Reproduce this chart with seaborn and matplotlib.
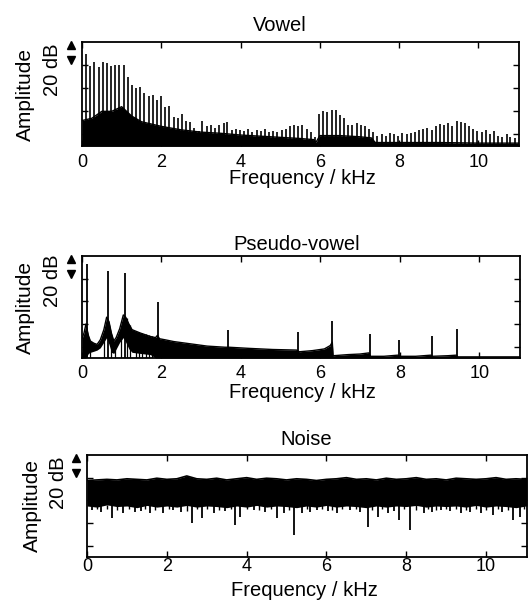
import matplotlib
matplotlib.use("Agg")
import matplotlib.pyplot as plt
import seaborn as sns

sns.set_theme(style="ticks")
plt.rcParams["font.family"] = ["Liberation Sans", "DejaVu Sans"]

# ---------------- data (frequency in kHz, level in dB) ----------------
X_TICKS = [0, 2, 4, 6, 8, 10]
Y_TICKS = [10, 30, 50, 70]
TITLES = ["Vowel", "Pseudo-vowel", "Noise"]
X_LABEL = "Frequency / kHz"
Y_LABEL = "Amplitude"
SCALE_LABEL = "20 dB"

# Vowel: harmonic peaks
VOWEL_PEAK_FREQ = [0.10, 0.21, 0.31, 0.42, 0.52, 0.63, 0.73, 0.84, 0.94, 1.05,
                   1.15, 1.26, 1.36, 1.47, 1.57, 1.68, 1.78, 1.89, 1.99, 2.10,
                   2.20, 2.31, 2.41, 2.52, 2.62, 2.73, 2.83, 2.94, 3.04, 3.15,
                   3.25, 3.36, 3.46, 3.57, 3.67, 3.78, 3.88, 3.99, 4.09, 4.20,
                   4.30, 4.41, 4.51, 4.62, 4.72, 4.83, 4.93, 5.04, 5.14, 5.25,
                   5.35, 5.46, 5.56, 5.67, 5.77, 5.88, 5.98, 6.09, 6.19, 6.30,
                   6.40, 6.51, 6.61, 6.72, 6.82, 6.93, 7.03, 7.14, 7.24, 7.35,
                   7.45, 7.56, 7.66, 7.77, 7.87, 7.98, 8.08, 8.19, 8.29, 8.40,
                   8.50, 8.61, 8.71, 8.82, 8.92, 9.03, 9.13, 9.24, 9.34, 9.45,
                   9.55, 9.66, 9.76, 9.87, 9.97, 10.08, 10.18, 10.29, 10.39, 10.50,
                   10.60, 10.71, 10.81, 10.92]
VOWEL_PEAK_DB = [80, 69, 73, 68, 73, 72, 69, 70, 70, 70,
                 60, 53, 50, 51, 46, 43, 44, 40, 43, 34,
                 35, 25, 24, 28, 22, 21, 16, 13, 22, 17,
                 18, 16, 18, 20, 21, 14, 15, 14, 13, 15,
                 12, 14, 13, 15, 12, 13, 12, 14, 15, 17,
                 18, 17, 18, 15, 12, 8, 28, 30, 29, 31,
                 31, 27, 24, 18, 18, 20, 18, 17, 15, 12,
                 9, 10, 9, 11, 10, 9, 11, 10, 11, 12,
                 14, 15, 16, 14, 17, 19, 18, 20, 17, 22,
                 21, 20, 17, 15, 13, 12, 14, 10, 13, 9,
                 8, 10, 8, 7]
# Vowel: dense lower mass (upper edge)
VOWEL_FREQ = [0.0, 0.25, 0.5, 0.75, 1.0, 1.25, 1.5, 1.75, 2.0, 2.5, 3.0, 3.5, 4.0,
              4.5, 5.0, 5.5, 5.85, 5.9, 6.0, 6.5, 7.0, 7.3, 7.4, 8.0, 9.0, 10.0, 11.025]
VOWEL_HIGH = [22, 24, 30, 30, 34, 26, 21, 19, 17, 14, 12, 11, 9.5,
              8.5, 7.5, 6.5, 5.5, 3, 9, 9, 8, 7, 3, 3, 3, 2.5, 2.5]

# Pseudo-vowel
PV_PEAK_FREQ = [0.13, 0.65, 1.07, 1.91, 3.67, 5.44, 6.29, 7.24, 7.97, 8.80, 9.44]
PV_PEAK_DB = [83, 77, 75, 49, 25, 23, 33, 21, 16, 19, 25.5]
PV_FREQ = [0.0, 0.05, 0.1, 0.16, 0.21, 0.3, 0.38, 0.46, 0.55, 0.62,
           0.68, 0.74, 0.8, 0.86, 0.95, 1.04, 1.10, 1.18, 1.26, 1.47,
           1.72, 1.85, 1.9, 1.95, 2.1, 2.31, 2.73, 3.15, 3.6, 3.7,
           4.2, 4.8, 5.4, 5.47, 5.8, 6.1, 6.25, 6.30, 6.32, 6.7,
           7.0, 7.22, 7.26, 7.6, 7.95, 7.99, 8.4, 8.78, 8.82, 9.2,
           9.42, 9.46, 10.2, 11.025]
PV_HIGH = [17, 22, 30, 20, 15, 13, 12, 16, 25, 36,
           32, 22, 15, 18, 26, 38, 36, 30, 25, 22,
           19, 18, 20, 17, 16, 14.5, 12.5, 10.5, 9.5, 9.5,
           8.5, 7.5, 7, 5.5, 6.5, 8, 11, 14, 2, 3,
           3.5, 4.5, 1.5, 1.5, 2.5, 1.5, 1.5, 2.5, 1.5, 2,
           2.5, 1, 1, 1]
PV_LOW = [0, 0, 0, 4, 5, 6, 7, 9, 14, 18,
          12, 5, 4, 8, 14, 18, 14, 8, 5, 4,
          3, 0, 0, 0, 0, 0, 0, 0, 0, 0,
          0, 0, 0, 0, 0, 0, 0, 0, 0, 0,
          0, 0, 0, 0, 0, 0, 0, 0, 0, 0,
          0, 0, 0, 0]
PV_NOTCH_FREQ = [0.21, 0.55, 0.72, 0.84, 0.97, 1.14, 1.22, 1.35, 1.43, 1.52, 1.60, 1.68, 1.77]
PV_NOTCH_TOP = [14, 24, 20, 14, 24, 35, 29, 24, 23, 22, 21, 20, 19]

# Noise
NOISE_FREQ = [0.0, 0.25, 0.5, 0.75, 1.0, 1.25, 1.5, 1.75, 2.0, 2.25,
              2.5, 2.75, 3.0, 3.25, 3.5, 3.75, 4.0, 4.25, 4.5, 4.75,
              5.0, 5.25, 5.5, 5.75, 6.0, 6.25, 6.5, 6.75, 7.0, 7.25,
              7.5, 7.75, 8.0, 8.25, 8.5, 8.75, 9.0, 9.25, 9.5, 9.75,
              10.0, 10.25, 10.5, 10.75, 11.0, 11.025]
NOISE_TOP = [67.5, 68, 68.5, 68, 69, 68.5, 68, 69.5, 68.5, 69,
             71.5, 69, 68.5, 69.5, 68, 69, 70, 68.5, 69.5, 69,
             68, 69, 68.5, 67.5, 68.5, 69, 70, 68.5, 69, 68,
             69.5, 68.5, 69, 70, 68.5, 69, 68, 69.5, 69, 68.5,
             69, 70, 68.5, 69, 68.5, 69]
NOISE_LOW = [45, 44, 46, 44.5, 45, 43.5, 45.5, 44, 45, 44,
             45.5, 44, 45, 44.5, 43.5, 45, 44, 45.5, 44, 45,
             44.5, 43.5, 45, 44, 45.5, 44, 45, 44.5, 43.5, 45,
             44, 45, 44.5, 45.5, 44, 45, 44.5, 45, 44, 45.5,
             44, 45, 44.5, 43.5, 45, 45]
NOISE_DIP_FREQ = [0.12, 0.35, 0.62, 0.91, 1.20, 1.35, 1.58, 1.91, 2.16, 2.35,
                  2.63, 2.88, 3.17, 3.45, 3.72, 3.84, 4.18, 4.45, 4.77, 4.94,
                  5.18, 5.39, 5.60, 5.77, 6.05, 6.27, 6.60, 6.85, 7.03, 7.28,
                  7.53, 7.70, 7.82, 8.10, 8.45, 8.65, 8.87, 9.10, 9.37, 9.60,
                  9.87, 10.17, 10.40, 10.67, 10.84]
NOISE_DIP_DB = [41.5, 40, 34, 38.5, 40, 41, 38.5, 38.5, 41.5, 40,
                29.7, 34, 38.5, 41, 28.2, 35.6, 41.5, 40, 34, 38.5,
                19.4, 38.5, 40, 41.5, 41, 38.5, 41.5, 40, 26.8, 35.6,
                38.5, 41, 32.7, 23.8, 38.5, 40, 41.5, 41, 38.5, 40,
                38.5, 37, 40, 32.7, 35.6]
NOISE_SHALLOW_FREQ = [0.25, 0.50, 0.75, 1.05, 1.45, 1.70, 2.05, 2.50, 2.75, 3.00,
                      3.30, 3.60, 4.00, 4.30, 4.60, 5.05, 5.50, 5.90, 6.15, 6.40,
                      6.75, 7.15, 7.40, 7.95, 8.25, 8.55, 8.75, 9.00, 9.25, 9.50,
                      9.75, 10.00, 10.30, 10.55, 10.95]
NOISE_SHALLOW_DB = [42, 42.5, 41.5, 42, 42, 41.5, 42.5, 41, 42, 42,
                    41.5, 42, 42.5, 41.5, 42, 41.5, 42, 42, 41.5, 42,
                    42, 41.5, 42, 42, 41.5, 42, 41.5, 42, 42, 41.5,
                    42, 41.5, 42, 41.5, 42]

# ---------------- layout (pixels) ----------------
W, H = 530, 600
fig = plt.figure(figsize=(W / 100, H / 100), dpi=100)


def add_axes(l, t, r, b):
    return fig.add_axes([l / W, 1 - b / H, (r - l) / W, (b - t) / H])


def ftext(x, y, s, **kw):
    fig.text(x / W, 1 - y / H, s, color="black", **kw)


ax1 = add_axes(82, 42, 519, 146)
ax2 = add_axes(82, 256, 520, 358)
ax3 = add_axes(87, 455, 527, 557)

# Vowel
ax1.fill_between(VOWEL_FREQ, 0, VOWEL_HIGH, color="black", lw=0)
sns.lineplot(x=VOWEL_FREQ, y=VOWEL_HIGH, ax=ax1, color="black", lw=1.0)
ax1.vlines(VOWEL_PEAK_FREQ, 0, VOWEL_PEAK_DB, color="black", lw=1.2)

# Pseudo-vowel
ax2.fill_between(PV_FREQ, PV_LOW, PV_HIGH, color="black", lw=0)
sns.lineplot(x=PV_FREQ, y=PV_HIGH, ax=ax2, color="black", lw=1.0)
ax2.vlines(PV_NOTCH_FREQ, 0, PV_NOTCH_TOP, color="black", lw=0.9)
ax2.vlines(PV_PEAK_FREQ, 0, PV_PEAK_DB, color="black", lw=1.3)

# Noise
ax3.fill_between(NOISE_FREQ, NOISE_LOW, NOISE_TOP, color="black", lw=0)
sns.lineplot(x=NOISE_FREQ, y=NOISE_TOP, ax=ax3, color="black", lw=1.2)
ax3.vlines(NOISE_SHALLOW_FREQ, NOISE_SHALLOW_DB, 46, color="black", lw=1.0)
ax3.vlines(NOISE_DIP_FREQ, NOISE_DIP_DB, 46, color="black", lw=1.3)

pads = [5.5, 4.7, 0.5]
for ax, pad in zip([ax1, ax2, ax3], pads):
    ax.set_xlim(0, 11.025)
    ax.set_ylim(0, 90)
    ax.set_xticks(X_TICKS)
    ax.set_xticklabels([str(t) for t in X_TICKS])
    ax.set_yticks(Y_TICKS)
    ax.set_yticklabels([])
    ax.set_xlabel("")
    ax.set_ylabel("")
    ax.tick_params(direction="in", top=True, right=True, left=True, bottom=True,
                   length=4, width=1.0, color="black", labelsize=13, pad=pad,
                   labelcolor="black")
    for s in ax.spines.values():
        s.set_visible(True)
        s.set_color("black")
        s.set_linewidth(1.3)
    # 20 dB scale markers
    x_ax = -11 / (ax.get_position().width * W)
    ax.plot([x_ax], [87.5], marker="^", color="black", ms=5.5, clip_on=False,
            transform=ax.get_yaxis_transform())
    ax.plot([x_ax], [74.5], marker="v", color="black", ms=5.5, clip_on=False,
            transform=ax.get_yaxis_transform())

# titles
ftext(280, 31, TITLES[0], ha="center", va="baseline", fontsize=14.5)
ftext(297, 250, TITLES[1], ha="center", va="baseline", fontsize=14.5)
ftext(306, 445, TITLES[2], ha="center", va="baseline", fontsize=14.5)

# x labels
ftext(302, 184, X_LABEL, ha="center", va="baseline", fontsize=14.5)
ftext(302, 398, X_LABEL, ha="center", va="baseline", fontsize=14.5)
ftext(304, 596, X_LABEL, ha="center", va="baseline", fontsize=14.5)

# y labels and scale labels
for cx, cy, sx, sy in [(25, 94, 52, 70), (25, 307, 52, 281), (32, 506, 58, 483)]:
    ftext(cx, cy, Y_LABEL, ha="center", va="center", rotation=90, fontsize=15)
    ftext(sx, sy, SCALE_LABEL, ha="center", va="center", rotation=90, fontsize=14.5)

fig.savefig("out.png", dpi=100)
